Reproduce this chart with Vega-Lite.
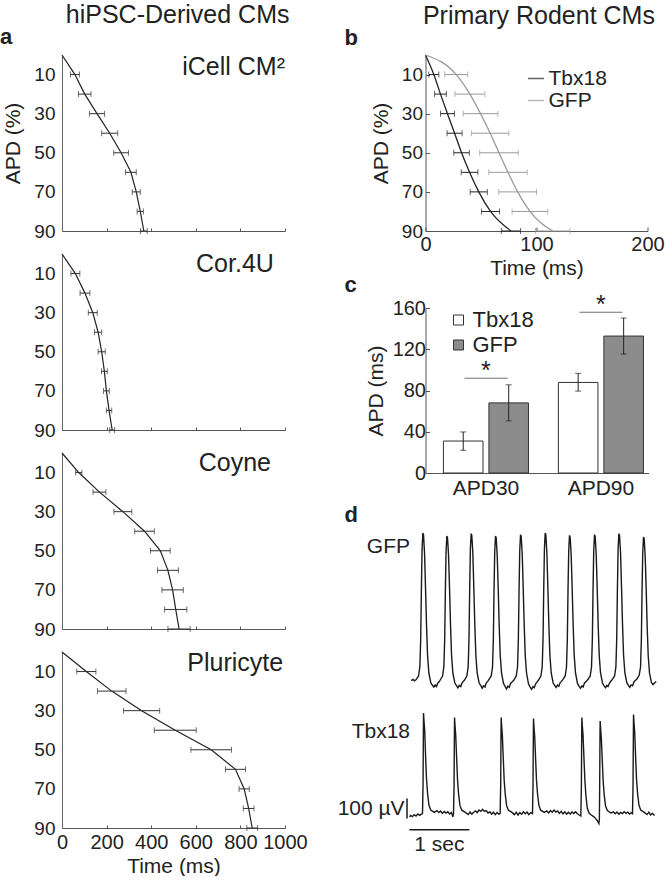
{
  "$schema": "https://vega.github.io/schema/vega-lite/v6.json",
  "padding": {"left": 0, "top": 2, "right": 0, "bottom": 0},
  "background": "white",
  "spacing": 29.5,
  "resolve": {"scale": {"color": "independent", "fill": "independent"}, "legend": {"color": "independent", "fill": "independent"}},
  "datasets": {
    "apdA": [
      {"line": "iCell", "apd": 0, "t": 0, "lo": null, "hi": null},
      {"line": "iCell", "apd": 10, "t": 58, "lo": 38, "hi": 78},
      {"line": "iCell", "apd": 20, "t": 102, "lo": 74, "hi": 130},
      {"line": "iCell", "apd": 30, "t": 157, "lo": 123, "hi": 191},
      {"line": "iCell", "apd": 40, "t": 214, "lo": 178, "hi": 250},
      {"line": "iCell", "apd": 50, "t": 265, "lo": 232, "hi": 298},
      {"line": "iCell", "apd": 60, "t": 309, "lo": 285, "hi": 333},
      {"line": "iCell", "apd": 70, "t": 333, "lo": 315, "hi": 351},
      {"line": "iCell", "apd": 80, "t": 351, "lo": 337, "hi": 365},
      {"line": "iCell", "apd": 90, "t": 367, "lo": 352, "hi": 382},
      {"line": "Cor4U", "apd": 0, "t": 0, "lo": null, "hi": null},
      {"line": "Cor4U", "apd": 10, "t": 60, "lo": 40, "hi": 80},
      {"line": "Cor4U", "apd": 20, "t": 103, "lo": 81, "hi": 125},
      {"line": "Cor4U", "apd": 30, "t": 138, "lo": 118, "hi": 158},
      {"line": "Cor4U", "apd": 40, "t": 162, "lo": 146, "hi": 178},
      {"line": "Cor4U", "apd": 50, "t": 178, "lo": 162, "hi": 194},
      {"line": "Cor4U", "apd": 60, "t": 190, "lo": 177, "hi": 203},
      {"line": "Cor4U", "apd": 70, "t": 199, "lo": 186, "hi": 212},
      {"line": "Cor4U", "apd": 80, "t": 211, "lo": 199, "hi": 223},
      {"line": "Cor4U", "apd": 90, "t": 225, "lo": 214, "hi": 236},
      {"line": "Coyne", "apd": 0, "t": 0, "lo": null, "hi": null},
      {"line": "Coyne", "apd": 10, "t": 75, "lo": 61, "hi": 89},
      {"line": "Coyne", "apd": 20, "t": 168, "lo": 139, "hi": 197},
      {"line": "Coyne", "apd": 30, "t": 273, "lo": 233, "hi": 313},
      {"line": "Coyne", "apd": 40, "t": 370, "lo": 326, "hi": 414},
      {"line": "Coyne", "apd": 50, "t": 441, "lo": 397, "hi": 485},
      {"line": "Coyne", "apd": 60, "t": 475, "lo": 428, "hi": 522},
      {"line": "Coyne", "apd": 70, "t": 496, "lo": 448, "hi": 544},
      {"line": "Coyne", "apd": 80, "t": 510, "lo": 460, "hi": 560},
      {"line": "Coyne", "apd": 90, "t": 525, "lo": 475, "hi": 575},
      {"line": "Pluricyte", "apd": 0, "t": 0, "lo": null, "hi": null},
      {"line": "Pluricyte", "apd": 10, "t": 109, "lo": 66, "hi": 152},
      {"line": "Pluricyte", "apd": 20, "t": 223, "lo": 159, "hi": 287},
      {"line": "Pluricyte", "apd": 30, "t": 357, "lo": 276, "hi": 438},
      {"line": "Pluricyte", "apd": 40, "t": 508, "lo": 414, "hi": 602},
      {"line": "Pluricyte", "apd": 50, "t": 669, "lo": 578, "hi": 760},
      {"line": "Pluricyte", "apd": 60, "t": 778, "lo": 733, "hi": 823},
      {"line": "Pluricyte", "apd": 70, "t": 817, "lo": 794, "hi": 840},
      {"line": "Pluricyte", "apd": 80, "t": 837, "lo": 813, "hi": 861},
      {"line": "Pluricyte", "apd": 90, "t": 853, "lo": 829, "hi": 877}
    ],
    "apdB": [
      {"series": "Tbx18", "apd": 0, "t": 0, "lo": null, "hi": null},
      {"series": "Tbx18", "apd": 10, "t": 7.5, "lo": 3, "hi": 12},
      {"series": "Tbx18", "apd": 20, "t": 13.5, "lo": 8.2, "hi": 18.8},
      {"series": "Tbx18", "apd": 30, "t": 19.8, "lo": 13.5, "hi": 26.1},
      {"series": "Tbx18", "apd": 40, "t": 26.2, "lo": 19.4, "hi": 33},
      {"series": "Tbx18", "apd": 50, "t": 32.5, "lo": 25.5, "hi": 39.5},
      {"series": "Tbx18", "apd": 60, "t": 39.7, "lo": 32.2, "hi": 47.2},
      {"series": "Tbx18", "apd": 70, "t": 48, "lo": 40.3, "hi": 55.7},
      {"series": "Tbx18", "apd": 80, "t": 58.6, "lo": 50.5, "hi": 66.7},
      {"series": "Tbx18", "apd": 90, "t": 77, "lo": 68.3, "hi": 85.7},
      {"series": "GFP", "apd": 0, "t": 0, "lo": null, "hi": null},
      {"series": "GFP", "apd": 10, "t": 27.7, "lo": 17.3, "hi": 38.1},
      {"series": "GFP", "apd": 20, "t": 40, "lo": 26.5, "hi": 53.5},
      {"series": "GFP", "apd": 30, "t": 49.6, "lo": 34, "hi": 65.2},
      {"series": "GFP", "apd": 40, "t": 58.3, "lo": 41.5, "hi": 75.1},
      {"series": "GFP", "apd": 50, "t": 66.2, "lo": 48.8, "hi": 83.6},
      {"series": "GFP", "apd": 60, "t": 74.3, "lo": 57, "hi": 91.6},
      {"series": "GFP", "apd": 70, "t": 83, "lo": 66, "hi": 100},
      {"series": "GFP", "apd": 80, "t": 94.1, "lo": 78, "hi": 110.2},
      {"series": "GFP", "apd": 90, "t": 114.6, "lo": 99.1, "hi": 130.1}
    ],
    "apdBar": [
      {"measure": "APD30", "series": "Tbx18", "mean": 31, "lo": 22, "hi": 39.8},
      {"measure": "APD30", "series": "GFP", "mean": 68, "lo": 50.5, "hi": 85.5},
      {"measure": "APD90", "series": "Tbx18", "mean": 87.8, "lo": 79.4, "hi": 96.6},
      {"measure": "APD90", "series": "GFP", "mean": 132.8, "lo": 115.3, "hi": 150.3}
    ],
    "sig": [
      {"measure": "APD30", "level": 92},
      {"measure": "APD90", "level": 156}
    ],
    "gfp": [
      {"t": 0.000, "v": -8}, {"t": 0.030, "v": -2}, {"t": 0.055, "v": -9}, {"t": 0.083, "v": -3},
      {"t": 0.122, "v": 15}, {"t": 0.144, "v": 60}, {"t": 0.158, "v": 200}, {"t": 0.169, "v": 440}, {"t": 0.181, "v": 650}, {"t": 0.194, "v": 730}, {"t": 0.205, "v": 720}, {"t": 0.222, "v": 630}, {"t": 0.238, "v": 460}, {"t": 0.255, "v": 270}, {"t": 0.272, "v": 120}, {"t": 0.294, "v": 30}, {"t": 0.327, "v": -20}, {"t": 0.360, "v": -34}, {"t": 0.377, "v": -40}, {"t": 0.400, "v": -30}, {"t": 0.420, "v": -38}, {"t": 0.444, "v": -20}, {"t": 0.465, "v": -14},
      {"t": 0.483, "v": -5}, {"t": 0.522, "v": 15}, {"t": 0.544, "v": 60}, {"t": 0.558, "v": 200}, {"t": 0.569, "v": 440}, {"t": 0.581, "v": 640}, {"t": 0.594, "v": 715}, {"t": 0.605, "v": 705}, {"t": 0.622, "v": 620}, {"t": 0.638, "v": 460}, {"t": 0.655, "v": 270}, {"t": 0.672, "v": 120}, {"t": 0.694, "v": 30}, {"t": 0.727, "v": -20}, {"t": 0.760, "v": -36}, {"t": 0.777, "v": -44}, {"t": 0.800, "v": -32}, {"t": 0.825, "v": -38}, {"t": 0.844, "v": -22}, {"t": 0.868, "v": -12},
      {"t": 0.888, "v": -5}, {"t": 0.927, "v": 15}, {"t": 0.949, "v": 60}, {"t": 0.963, "v": 200}, {"t": 0.974, "v": 440}, {"t": 0.986, "v": 650}, {"t": 0.999, "v": 727}, {"t": 1.010, "v": 717}, {"t": 1.027, "v": 630}, {"t": 1.043, "v": 460}, {"t": 1.060, "v": 270}, {"t": 1.077, "v": 120}, {"t": 1.099, "v": 30}, {"t": 1.132, "v": -20}, {"t": 1.165, "v": -36}, {"t": 1.182, "v": -46}, {"t": 1.205, "v": -34}, {"t": 1.230, "v": -40}, {"t": 1.249, "v": -20}, {"t": 1.275, "v": -12},
      {"t": 1.294, "v": -3}, {"t": 1.333, "v": 15}, {"t": 1.355, "v": 60}, {"t": 1.369, "v": 200}, {"t": 1.380, "v": 440}, {"t": 1.392, "v": 640}, {"t": 1.405, "v": 715}, {"t": 1.416, "v": 705}, {"t": 1.433, "v": 620}, {"t": 1.449, "v": 460}, {"t": 1.466, "v": 270}, {"t": 1.483, "v": 120}, {"t": 1.505, "v": 30}, {"t": 1.538, "v": -22}, {"t": 1.570, "v": -40}, {"t": 1.588, "v": -50}, {"t": 1.610, "v": -36}, {"t": 1.635, "v": -42}, {"t": 1.655, "v": -22}, {"t": 1.690, "v": -12},
      {"t": 1.711, "v": -5}, {"t": 1.750, "v": 15}, {"t": 1.772, "v": 60}, {"t": 1.786, "v": 200}, {"t": 1.797, "v": 440}, {"t": 1.809, "v": 645}, {"t": 1.822, "v": 722}, {"t": 1.833, "v": 712}, {"t": 1.850, "v": 625}, {"t": 1.866, "v": 460}, {"t": 1.883, "v": 270}, {"t": 1.900, "v": 120}, {"t": 1.922, "v": 30}, {"t": 1.955, "v": -25}, {"t": 1.985, "v": -42}, {"t": 2.005, "v": -52}, {"t": 2.030, "v": -38}, {"t": 2.050, "v": -44}, {"t": 2.072, "v": -25}, {"t": 2.100, "v": -14},
      {"t": 2.122, "v": -5}, {"t": 2.161, "v": 15}, {"t": 2.183, "v": 60}, {"t": 2.197, "v": 200}, {"t": 2.208, "v": 440}, {"t": 2.220, "v": 650}, {"t": 2.233, "v": 730}, {"t": 2.244, "v": 720}, {"t": 2.261, "v": 630}, {"t": 2.277, "v": 460}, {"t": 2.294, "v": 270}, {"t": 2.311, "v": 120}, {"t": 2.333, "v": 30}, {"t": 2.366, "v": -20}, {"t": 2.395, "v": -34}, {"t": 2.416, "v": -42}, {"t": 2.440, "v": -30}, {"t": 2.460, "v": -36}, {"t": 2.483, "v": -18}, {"t": 2.505, "v": -12},
      {"t": 2.527, "v": -3}, {"t": 2.566, "v": 15}, {"t": 2.588, "v": 60}, {"t": 2.602, "v": 200}, {"t": 2.613, "v": 440}, {"t": 2.625, "v": 640}, {"t": 2.638, "v": 718}, {"t": 2.649, "v": 708}, {"t": 2.666, "v": 620}, {"t": 2.682, "v": 460}, {"t": 2.699, "v": 270}, {"t": 2.716, "v": 120}, {"t": 2.738, "v": 30}, {"t": 2.771, "v": -22}, {"t": 2.800, "v": -38}, {"t": 2.821, "v": -46}, {"t": 2.845, "v": -34}, {"t": 2.865, "v": -40}, {"t": 2.888, "v": -20}, {"t": 2.915, "v": -12},
      {"t": 2.944, "v": -3}, {"t": 2.983, "v": 15}, {"t": 3.005, "v": 60}, {"t": 3.019, "v": 200}, {"t": 3.030, "v": 440}, {"t": 3.042, "v": 645}, {"t": 3.055, "v": 722}, {"t": 3.066, "v": 712}, {"t": 3.083, "v": 625}, {"t": 3.099, "v": 460}, {"t": 3.116, "v": 270}, {"t": 3.133, "v": 120}, {"t": 3.155, "v": 30}, {"t": 3.188, "v": -20}, {"t": 3.218, "v": -36}, {"t": 3.238, "v": -44}, {"t": 3.260, "v": -32}, {"t": 3.280, "v": -38}, {"t": 3.305, "v": -20}, {"t": 3.330, "v": -10},
      {"t": 3.350, "v": -3}, {"t": 3.389, "v": 15}, {"t": 3.411, "v": 60}, {"t": 3.425, "v": 200}, {"t": 3.436, "v": 440}, {"t": 3.448, "v": 650}, {"t": 3.461, "v": 727}, {"t": 3.472, "v": 717}, {"t": 3.489, "v": 630}, {"t": 3.505, "v": 460}, {"t": 3.522, "v": 270}, {"t": 3.539, "v": 120}, {"t": 3.561, "v": 30}, {"t": 3.594, "v": -20}, {"t": 3.625, "v": -34}, {"t": 3.644, "v": -42}, {"t": 3.665, "v": -30}, {"t": 3.690, "v": -34}, {"t": 3.711, "v": -15}, {"t": 3.735, "v": -8},
      {"t": 3.761, "v": 0}, {"t": 3.800, "v": 20}, {"t": 3.822, "v": 60}, {"t": 3.836, "v": 200}, {"t": 3.847, "v": 440}, {"t": 3.859, "v": 635}, {"t": 3.872, "v": 710}, {"t": 3.883, "v": 700}, {"t": 3.900, "v": 610}, {"t": 3.916, "v": 450}, {"t": 3.933, "v": 260}, {"t": 3.950, "v": 115}, {"t": 3.972, "v": 28}, {"t": 4.005, "v": -18}, {"t": 4.030, "v": -28}, {"t": 4.055, "v": -20}, {"t": 4.083, "v": -12}
    ],
    "tbx": [
      {"t": -0.028, "v": -20}, {"t": -0.010, "v": -12}, {"t": 0.020, "v": -18}, {"t": 0.050, "v": -8}, {"t": 0.080, "v": -15}, {"t": 0.110, "v": -5}, {"t": 0.140, "v": -12}, {"t": 0.170, "v": -6},
      {"t": 0.188, "v": -3}, {"t": 0.197, "v": 138}, {"t": 0.202, "v": 372}, {"t": 0.205, "v": 500}, {"t": 0.213, "v": 460}, {"t": 0.225, "v": 410}, {"t": 0.240, "v": 280}, {"t": 0.255, "v": 170}, {"t": 0.272, "v": 100}, {"t": 0.295, "v": 40}, {"t": 0.325, "v": 15}, {"t": 0.385, "v": 3},
      {"t": 0.430, "v": 12}, {"t": 0.460, "v": 2}, {"t": 0.490, "v": 10}, {"t": 0.520, "v": -2}, {"t": 0.550, "v": 8}, {"t": 0.580, "v": 0}, {"t": 0.610, "v": 6}, {"t": 0.640, "v": -5}, {"t": 0.670, "v": 3}, {"t": 0.695, "v": -20},
      {"t": 0.705, "v": -3}, {"t": 0.714, "v": 138}, {"t": 0.719, "v": 372}, {"t": 0.722, "v": 477}, {"t": 0.730, "v": 437}, {"t": 0.742, "v": 387}, {"t": 0.757, "v": 275}, {"t": 0.772, "v": 165}, {"t": 0.789, "v": 97}, {"t": 0.812, "v": 38}, {"t": 0.842, "v": 14}, {"t": 0.902, "v": 3},
      {"t": 0.950, "v": -8}, {"t": 0.980, "v": 5}, {"t": 1.010, "v": -6}, {"t": 1.040, "v": 4}, {"t": 1.070, "v": 10}, {"t": 1.100, "v": 2}, {"t": 1.130, "v": 15}, {"t": 1.160, "v": 8}, {"t": 1.190, "v": 18}, {"t": 1.220, "v": 8}, {"t": 1.250, "v": 12}, {"t": 1.280, "v": 0}, {"t": 1.310, "v": 6}, {"t": 1.340, "v": -6}, {"t": 1.370, "v": 4}, {"t": 1.400, "v": -8}, {"t": 1.430, "v": 2}, {"t": 1.460, "v": -6},
      {"t": 1.482, "v": -3}, {"t": 1.491, "v": 138}, {"t": 1.496, "v": 372}, {"t": 1.499, "v": 477}, {"t": 1.507, "v": 437}, {"t": 1.519, "v": 387}, {"t": 1.534, "v": 275}, {"t": 1.549, "v": 165}, {"t": 1.566, "v": 97}, {"t": 1.589, "v": 38}, {"t": 1.619, "v": 14}, {"t": 1.679, "v": 3},
      {"t": 1.720, "v": -8}, {"t": 1.750, "v": 4}, {"t": 1.780, "v": -10}, {"t": 1.810, "v": 2}, {"t": 1.840, "v": -6}, {"t": 1.870, "v": 6}, {"t": 1.900, "v": -4}, {"t": 1.930, "v": 5}, {"t": 1.960, "v": -8}, {"t": 1.990, "v": 2},
      {"t": 2.021, "v": -3}, {"t": 2.030, "v": 138}, {"t": 2.035, "v": 372}, {"t": 2.038, "v": 472}, {"t": 2.046, "v": 432}, {"t": 2.058, "v": 382}, {"t": 2.073, "v": 272}, {"t": 2.088, "v": 163}, {"t": 2.105, "v": 96}, {"t": 2.128, "v": 38}, {"t": 2.158, "v": 14}, {"t": 2.218, "v": 3},
      {"t": 2.260, "v": 10}, {"t": 2.290, "v": 0}, {"t": 2.320, "v": 12}, {"t": 2.350, "v": 4}, {"t": 2.380, "v": 15}, {"t": 2.410, "v": 5}, {"t": 2.440, "v": 10}, {"t": 2.470, "v": -2}, {"t": 2.500, "v": 8}, {"t": 2.530, "v": -4}, {"t": 2.560, "v": 6}, {"t": 2.590, "v": -6}, {"t": 2.620, "v": 4}, {"t": 2.650, "v": -5}, {"t": 2.680, "v": 5}, {"t": 2.710, "v": -3}, {"t": 2.740, "v": 6}, {"t": 2.770, "v": -4}, {"t": 2.800, "v": -10},
      {"t": 2.827, "v": -15}, {"t": 2.836, "v": 138}, {"t": 2.841, "v": 372}, {"t": 2.844, "v": 477}, {"t": 2.852, "v": 437}, {"t": 2.864, "v": 387}, {"t": 2.879, "v": 275}, {"t": 2.894, "v": 165}, {"t": 2.911, "v": 90}, {"t": 2.934, "v": 25}, {"t": 2.964, "v": 0}, {"t": 3.000, "v": -10}, {"t": 3.040, "v": -18}, {"t": 3.075, "v": -28}, {"t": 3.105, "v": -40}, {"t": 3.128, "v": -53},
      {"t": 3.136, "v": -30}, {"t": 3.141, "v": 138}, {"t": 3.146, "v": 372}, {"t": 3.149, "v": 460}, {"t": 3.157, "v": 420}, {"t": 3.169, "v": 370}, {"t": 3.184, "v": 265}, {"t": 3.199, "v": 160}, {"t": 3.216, "v": 92}, {"t": 3.239, "v": 35}, {"t": 3.269, "v": 12}, {"t": 3.329, "v": 0},
      {"t": 3.370, "v": 6}, {"t": 3.400, "v": -4}, {"t": 3.430, "v": 5}, {"t": 3.460, "v": -6}, {"t": 3.490, "v": 3}, {"t": 3.520, "v": -3}, {"t": 3.550, "v": 6}, {"t": 3.580, "v": -2}, {"t": 3.610, "v": 4}, {"t": 3.640, "v": -5}, {"t": 3.670, "v": 2},
      {"t": 3.688, "v": -3}, {"t": 3.697, "v": 138}, {"t": 3.702, "v": 372}, {"t": 3.705, "v": 492}, {"t": 3.713, "v": 452}, {"t": 3.725, "v": 402}, {"t": 3.740, "v": 280}, {"t": 3.755, "v": 170}, {"t": 3.772, "v": 100}, {"t": 3.795, "v": 40}, {"t": 3.825, "v": 15}, {"t": 3.885, "v": 3},
      {"t": 3.930, "v": -8}, {"t": 3.960, "v": 4}, {"t": 3.990, "v": -10}, {"t": 4.020, "v": -2}, {"t": 4.055, "v": -12}
    ]
  },
  "hconcat": [
    {
      "title": {"text": "hiPSC-Derived CMs", "fontSize": 25, "anchor": "middle", "offset": -2, "dx": 24},
      "bounds": "flush",
      "spacing": 23,
      "vconcat": [
        {
          "width": 223, "height": 176,
          "title": {"text": "a", "anchor": "start", "frame": "group", "dx": -62, "fontSize": 22, "fontWeight": "bold", "offset": 4},
          "data": {"name": "apdA"},
          "transform": [{"filter": "datum.line == 'iCell'"}],
          "layer": [
            {"mark": {"type": "line", "color": "#222", "strokeWidth": 1.2},
             "encoding": {
               "x": {"field": "t", "type": "quantitative", "scale": {"domain": [0, 1000], "nice": false}, "axis": {"values": [0, 200, 400, 600, 800, 1000], "labels": false, "title": null, "tickSize": -3}},
               "y": {"field": "apd", "type": "quantitative", "scale": {"domain": [0, 90], "reverse": true, "nice": false}, "axis": {"values": [10, 30, 50, 70, 90], "ticks": false, "labelPadding": 7, "title": "APD (%)", "titlePadding": 10, "domainColor": "#666"}}}},
            {"transform": [{"filter": "isValid(datum.lo)"}], "mark": {"type": "rule", "color": "#333", "strokeWidth": 1},
             "encoding": {"x": {"field": "lo", "type": "quantitative"}, "x2": {"field": "hi"}, "y": {"field": "apd", "type": "quantitative"}}},
            {"transform": [{"filter": "isValid(datum.lo)"}], "mark": {"type": "tick", "orient": "vertical", "size": 6, "thickness": 1, "color": "#333"},
             "encoding": {"x": {"field": "lo", "type": "quantitative"}, "y": {"field": "apd", "type": "quantitative"}}},
            {"transform": [{"filter": "isValid(datum.hi)"}], "mark": {"type": "tick", "orient": "vertical", "size": 6, "thickness": 1, "color": "#333"},
             "encoding": {"x": {"field": "hi", "type": "quantitative"}, "y": {"field": "apd", "type": "quantitative"}}},
            {"data": {"values": [{}]}, "mark": {"type": "text", "text": "iCell CM²", "align": "right", "baseline": "middle", "fontSize": 25, "color": "#222"},
             "encoding": {"x": {"datum": 1000, "type": "quantitative"}, "y": {"datum": 6, "type": "quantitative"}}}
          ]
        },
        {
          "width": 223, "height": 176,
          "data": {"name": "apdA"},
          "transform": [{"filter": "datum.line == 'Cor4U'"}],
          "layer": [
            {"mark": {"type": "line", "color": "#222", "strokeWidth": 1.2},
             "encoding": {
               "x": {"field": "t", "type": "quantitative", "scale": {"domain": [0, 1000], "nice": false}, "axis": {"values": [0, 200, 400, 600, 800, 1000], "labels": false, "title": null, "tickSize": -3}},
               "y": {"field": "apd", "type": "quantitative", "scale": {"domain": [0, 90], "reverse": true, "nice": false}, "axis": {"values": [10, 30, 50, 70, 90], "ticks": false, "labelPadding": 7, "title": null, "domainColor": "#666"}}}},
            {"transform": [{"filter": "isValid(datum.lo)"}], "mark": {"type": "rule", "color": "#333", "strokeWidth": 1},
             "encoding": {"x": {"field": "lo", "type": "quantitative"}, "x2": {"field": "hi"}, "y": {"field": "apd", "type": "quantitative"}}},
            {"transform": [{"filter": "isValid(datum.lo)"}], "mark": {"type": "tick", "orient": "vertical", "size": 6, "thickness": 1, "color": "#333"},
             "encoding": {"x": {"field": "lo", "type": "quantitative"}, "y": {"field": "apd", "type": "quantitative"}}},
            {"transform": [{"filter": "isValid(datum.hi)"}], "mark": {"type": "tick", "orient": "vertical", "size": 6, "thickness": 1, "color": "#333"},
             "encoding": {"x": {"field": "hi", "type": "quantitative"}, "y": {"field": "apd", "type": "quantitative"}}},
            {"data": {"values": [{}]}, "mark": {"type": "text", "text": "Cor.4U", "align": "right", "baseline": "middle", "fontSize": 25, "color": "#222"},
             "encoding": {"x": {"datum": 950, "type": "quantitative"}, "y": {"datum": 5, "type": "quantitative"}}}
          ]
        },
        {
          "width": 223, "height": 176,
          "data": {"name": "apdA"},
          "transform": [{"filter": "datum.line == 'Coyne'"}],
          "layer": [
            {"mark": {"type": "line", "color": "#222", "strokeWidth": 1.2},
             "encoding": {
               "x": {"field": "t", "type": "quantitative", "scale": {"domain": [0, 1000], "nice": false}, "axis": {"values": [0, 200, 400, 600, 800, 1000], "labels": false, "title": null, "tickSize": -3}},
               "y": {"field": "apd", "type": "quantitative", "scale": {"domain": [0, 90], "reverse": true, "nice": false}, "axis": {"values": [10, 30, 50, 70, 90], "ticks": false, "labelPadding": 7, "title": null, "domainColor": "#666"}}}},
            {"transform": [{"filter": "isValid(datum.lo)"}], "mark": {"type": "rule", "color": "#333", "strokeWidth": 1},
             "encoding": {"x": {"field": "lo", "type": "quantitative"}, "x2": {"field": "hi"}, "y": {"field": "apd", "type": "quantitative"}}},
            {"transform": [{"filter": "isValid(datum.lo)"}], "mark": {"type": "tick", "orient": "vertical", "size": 6, "thickness": 1, "color": "#333"},
             "encoding": {"x": {"field": "lo", "type": "quantitative"}, "y": {"field": "apd", "type": "quantitative"}}},
            {"transform": [{"filter": "isValid(datum.hi)"}], "mark": {"type": "tick", "orient": "vertical", "size": 6, "thickness": 1, "color": "#333"},
             "encoding": {"x": {"field": "hi", "type": "quantitative"}, "y": {"field": "apd", "type": "quantitative"}}},
            {"data": {"values": [{}]}, "mark": {"type": "text", "text": "Coyne", "align": "right", "baseline": "middle", "fontSize": 25, "color": "#222"},
             "encoding": {"x": {"datum": 937, "type": "quantitative"}, "y": {"datum": 5.3, "type": "quantitative"}}}
          ]
        },
        {
          "width": 223, "height": 176,
          "data": {"name": "apdA"},
          "transform": [{"filter": "datum.line == 'Pluricyte'"}],
          "layer": [
            {"mark": {"type": "line", "color": "#222", "strokeWidth": 1.2},
             "encoding": {
               "x": {"field": "t", "type": "quantitative", "scale": {"domain": [0, 1000], "nice": false}, "axis": {"values": [0, 200, 400, 600, 800, 1000], "format": "d", "title": "Time (ms)", "tickSize": -3, "labelFontSize": 20, "labelFlush": false, "labelOverlap": false, "labelPadding": 7, "titlePadding": 3}},
               "y": {"field": "apd", "type": "quantitative", "scale": {"domain": [0, 90], "reverse": true, "nice": false}, "axis": {"values": [10, 30, 50, 70, 90], "ticks": false, "labelPadding": 7, "title": null, "domainColor": "#666"}}}},
            {"transform": [{"filter": "isValid(datum.lo)"}], "mark": {"type": "rule", "color": "#333", "strokeWidth": 1},
             "encoding": {"x": {"field": "lo", "type": "quantitative"}, "x2": {"field": "hi"}, "y": {"field": "apd", "type": "quantitative"}}},
            {"transform": [{"filter": "isValid(datum.lo)"}], "mark": {"type": "tick", "orient": "vertical", "size": 6, "thickness": 1, "color": "#333"},
             "encoding": {"x": {"field": "lo", "type": "quantitative"}, "y": {"field": "apd", "type": "quantitative"}}},
            {"transform": [{"filter": "isValid(datum.hi)"}], "mark": {"type": "tick", "orient": "vertical", "size": 6, "thickness": 1, "color": "#333"},
             "encoding": {"x": {"field": "hi", "type": "quantitative"}, "y": {"field": "apd", "type": "quantitative"}}},
            {"data": {"values": [{}]}, "mark": {"type": "text", "text": "Pluricyte", "align": "right", "baseline": "middle", "fontSize": 25, "color": "#222"},
             "encoding": {"x": {"datum": 992, "type": "quantitative"}, "y": {"datum": 5.8, "type": "quantitative"}}}
          ]
        }
      ]
    },
    {
      "title": {"text": "Primary Rodent CMs", "fontSize": 25, "anchor": "middle", "offset": -2, "dx": 38},
      "bounds": "flush",
      "spacing": 77,
      "resolve": {"scale": {"color": "independent", "fill": "independent"}, "legend": {"color": "independent", "fill": "independent"}},
      "vconcat": [
        {
          "width": 222, "height": 176,
          "title": {"text": "b", "anchor": "start", "frame": "group", "dx": -81, "fontSize": 22, "fontWeight": "bold", "offset": 2},
          "data": {"name": "apdB"},
          "layer": [
            {"mark": {"type": "line", "strokeWidth": 1.3, "interpolate": "monotone"},
             "encoding": {
               "x": {"field": "t", "type": "quantitative", "scale": {"domain": [0, 200], "nice": false}, "axis": {"values": [0, 100, 200], "title": "Time (ms)", "tickSize": -4, "labelFontSize": 20, "labelFlush": false, "labelOverlap": false, "labelPadding": 7, "titlePadding": 3}},
               "y": {"field": "apd", "type": "quantitative", "scale": {"domain": [0, 90], "reverse": true, "nice": false}, "axis": {"values": [10, 20, 30, 40, 50, 60, 70, 80, 90], "labelExpr": "datum.value % 20 == 10 ? datum.label : ''", "tickSize": -4, "labelPadding": 7, "title": "APD (%)", "titlePadding": 10}},
               "color": {"field": "series", "type": "nominal", "scale": {"domain": ["Tbx18", "GFP"], "range": ["#222222", "#9a9a9a"]},
                 "legend": {"orient": "none", "legendX": 100, "legendY": 13, "title": null, "labelFontSize": 21, "symbolType": "stroke", "symbolSize": 256, "symbolStrokeWidth": 1.5, "rowPadding": 0, "padding": 0, "labelOffset": 2}}}},
            {"transform": [{"filter": "isValid(datum.lo)"}], "mark": {"type": "rule", "strokeWidth": 1},
             "encoding": {"x": {"field": "lo", "type": "quantitative"}, "x2": {"field": "hi"}, "y": {"field": "apd", "type": "quantitative"}, "color": {"field": "series", "type": "nominal"}}},
            {"transform": [{"filter": "isValid(datum.lo)"}], "mark": {"type": "tick", "orient": "vertical", "size": 6, "thickness": 1},
             "encoding": {"x": {"field": "lo", "type": "quantitative"}, "y": {"field": "apd", "type": "quantitative"}, "color": {"field": "series", "type": "nominal"}}},
            {"transform": [{"filter": "isValid(datum.hi)"}], "mark": {"type": "tick", "orient": "vertical", "size": 6, "thickness": 1},
             "encoding": {"x": {"field": "hi", "type": "quantitative"}, "y": {"field": "apd", "type": "quantitative"}, "color": {"field": "series", "type": "nominal"}}}
          ]
        },
        {
          "width": 223, "height": 165,
          "title": {"text": "c", "anchor": "start", "frame": "group", "dx": -81, "fontSize": 22, "fontWeight": "bold", "offset": -4},
          "layer": [
            {"data": {"name": "apdBar"},
             "mark": {"type": "bar", "stroke": "#333333", "strokeWidth": 1},
             "encoding": {
               "x": {"field": "measure", "type": "nominal", "scale": {"paddingInner": 0.26, "paddingOuter": 0.1, "align": 0.78}, "axis": {"title": null, "labelAngle": 0, "ticks": false, "labelFontSize": 21, "labelPadding": 4}},
               "xOffset": {"field": "series", "type": "nominal", "scale": {"domain": ["Tbx18", "GFP"], "paddingInner": 0.13, "paddingOuter": 0}},
               "y": {"field": "mean", "type": "quantitative", "scale": {"domain": [0, 160], "nice": false}, "axis": {"title": "APD (ms)", "values": [0, 20, 40, 60, 80, 100, 120, 140, 160], "labelExpr": "datum.value % 40 == 0 ? datum.label : ''", "tickSize": -4, "labelFontSize": 20, "labelPadding": 4, "titlePadding": 6}},
               "fill": {"field": "series", "type": "nominal", "scale": {"domain": ["Tbx18", "GFP"], "range": ["#ffffff", "#8c8c8c"]},
                 "legend": {"orient": "none", "legendX": 22, "legendY": 1, "title": null, "labelFontSize": 22, "symbolType": "square", "symbolSize": 100, "symbolStrokeColor": "#333333", "symbolStrokeWidth": 1, "rowPadding": 3, "padding": 0, "labelOffset": 3}}}},
            {"data": {"name": "apdBar"},
             "mark": {"type": "rule", "color": "#222", "strokeWidth": 1},
             "encoding": {"x": {"field": "measure", "type": "nominal"}, "xOffset": {"field": "series", "type": "nominal"}, "y": {"field": "lo", "type": "quantitative"}, "y2": {"field": "hi"}}},
            {"data": {"name": "apdBar"},
             "mark": {"type": "tick", "orient": "horizontal", "size": 6, "thickness": 1, "color": "#222"},
             "encoding": {"x": {"field": "measure", "type": "nominal"}, "xOffset": {"field": "series", "type": "nominal"}, "y": {"field": "lo", "type": "quantitative"}}},
            {"data": {"name": "apdBar"},
             "mark": {"type": "tick", "orient": "horizontal", "size": 6, "thickness": 1, "color": "#222"},
             "encoding": {"x": {"field": "measure", "type": "nominal"}, "xOffset": {"field": "series", "type": "nominal"}, "y": {"field": "hi", "type": "quantitative"}}},
            {"data": {"name": "sig"},
             "mark": {"type": "tick", "orient": "horizontal", "size": 43, "thickness": 1, "color": "#333"},
             "encoding": {"x": {"field": "measure", "type": "nominal"}, "y": {"field": "level", "type": "quantitative"}}},
            {"data": {"name": "sig"},
             "mark": {"type": "text", "text": "*", "fontSize": 25, "baseline": "alphabetic", "align": "center", "dy": 1, "color": "#222"},
             "encoding": {"x": {"field": "measure", "type": "nominal"}, "y": {"field": "level", "type": "quantitative"}}}
          ]
        },
        {
          "width": 231, "height": 280,
          "title": {"text": "d", "anchor": "start", "frame": "group", "dx": -81, "fontSize": 22, "fontWeight": "bold", "offset": 3},
          "resolve": {"scale": {"y": "independent"}},
          "layer": [
            {"layer": [
              {"data": {"name": "gfp"}, "mark": {"type": "line", "color": "#1a1a1a", "strokeWidth": 1.4},
               "encoding": {
                 "x": {"field": "t", "type": "quantitative", "scale": {"domain": [0.238, 4.088], "nice": false, "zero": false}, "axis": null},
                 "y": {"field": "v", "type": "quantitative", "scale": {"domain": [-755, 645], "nice": false, "zero": false}, "axis": null}}},
              {"data": {"values": [{}]}, "mark": {"type": "text", "text": "GFP", "align": "right", "baseline": "middle", "fontSize": 21, "color": "#222"},
               "encoding": {"x": {"datum": -0.02, "type": "quantitative"}, "y": {"datum": 660, "type": "quantitative"}}}
            ]},
            {"layer": [
              {"data": {"name": "tbx"}, "mark": {"type": "line", "color": "#1a1a1a", "strokeWidth": 1.4},
               "encoding": {
                 "x": {"field": "t", "type": "quantitative"},
                 "y": {"field": "v", "type": "quantitative", "scale": {"domain": [-85, 1315], "nice": false, "zero": false}, "axis": null}}},
              {"data": {"values": [{}]}, "mark": {"type": "rule", "color": "#1a1a1a", "strokeWidth": 1.5},
               "encoding": {"x": {"datum": -0.07, "type": "quantitative"}, "y": {"datum": -28, "type": "quantitative"}, "y2": {"datum": 72}}},
              {"data": {"values": [{}]}, "mark": {"type": "rule", "color": "#1a1a1a", "strokeWidth": 1.5},
               "encoding": {"x": {"datum": -0.03, "type": "quantitative"}, "x2": {"datum": 0.97}, "y": {"datum": -84, "type": "quantitative"}}},
              {"data": {"values": [{}]}, "mark": {"type": "text", "text": "Tbx18", "align": "right", "baseline": "middle", "fontSize": 21, "color": "#222"},
               "encoding": {"x": {"datum": -0.02, "type": "quantitative"}, "y": {"datum": 405, "type": "quantitative"}}},
              {"data": {"values": [{}]}, "mark": {"type": "text", "text": "100 µV", "align": "right", "baseline": "middle", "fontSize": 21, "color": "#222"},
               "encoding": {"x": {"datum": -0.11, "type": "quantitative"}, "y": {"datum": 21, "type": "quantitative"}}},
              {"data": {"values": [{}]}, "mark": {"type": "text", "text": "1 sec", "align": "center", "baseline": "middle", "fontSize": 21, "color": "#222"},
               "encoding": {"x": {"datum": 0.47, "type": "quantitative"}, "y": {"datum": -160, "type": "quantitative"}}}
            ]}
          ]
        }
      ]
    }
  ],
  "config": {
    "font": "Liberation Sans",
    "view": {"stroke": null},
    "axis": {"labelFont": "Liberation Sans", "titleFont": "Liberation Sans", "labelColor": "#222", "titleColor": "#222", "domainColor": "#555", "tickColor": "#555", "grid": false, "labelFontSize": 19, "titleFontSize": 21, "titleFontWeight": "normal"},
    "title": {"font": "Liberation Sans", "color": "#222", "fontWeight": "normal"},
    "legend": {"labelFont": "Liberation Sans", "labelColor": "#222"},
    "text": {"font": "Liberation Sans"}
  }
}
